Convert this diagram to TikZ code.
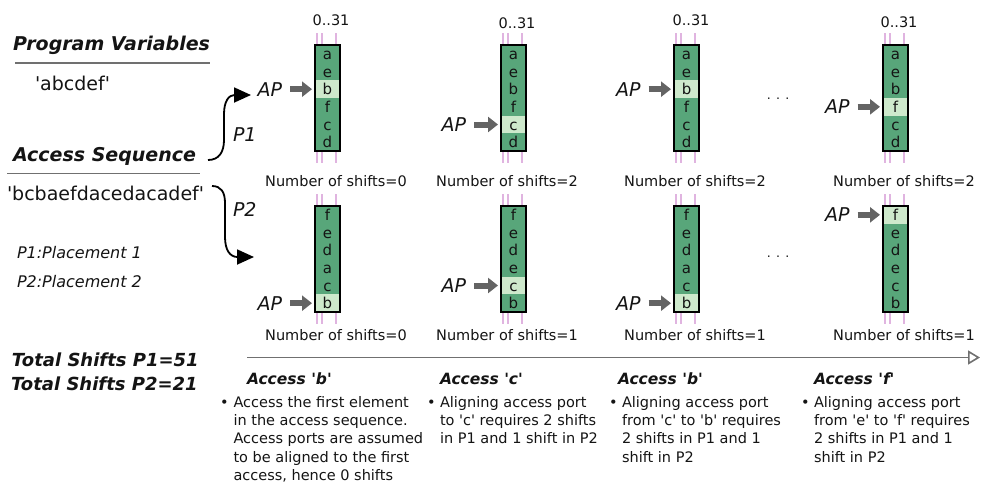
\documentclass[tikz,border=0pt]{standalone}
\usepackage{fontspec}
\setmainfont{DejaVu Sans}[Ligatures=TeXOff]
\usetikzlibrary{arrows.meta}

\definecolor{tapegreen}{RGB}{88,166,122}
\definecolor{cellhl}{RGB}{206,233,204}
\definecolor{railpink}{RGB}{224,180,224}
\definecolor{apgray}{RGB}{100,100,100}
\definecolor{rulegray}{RGB}{112,112,112}
\definecolor{inkdark}{RGB}{20,20,20}

\tikzset{
  txt/.style={inner sep=0pt, outer sep=0pt, text=inkdark},
  headtext/.style={txt, anchor=base west, font=\fontsize{19}{22}\selectfont\bfseries\itshape},
  totaltext/.style={txt, anchor=base west, font=\fontsize{18}{22}\selectfont\bfseries\itshape},
  plaintext/.style={txt, anchor=base west, font=\fontsize{19}{22}\selectfont},
  legendtext/.style={txt, anchor=base west, font=\fontsize{16}{18}\selectfont\itshape},
  plabel/.style={txt, anchor=base west, font=\fontsize{19}{22}\selectfont\itshape},
  aplabel/.style={txt, anchor=east, font=\fontsize{19}{22}\selectfont\itshape},
  idxrange/.style={txt, anchor=base, font=\fontsize{14.5}{17}\selectfont},
  shiftcount/.style={txt, anchor=base, font=\fontsize{14.5}{17}\selectfont},
  gapdots/.style={txt, anchor=base, font=\fontsize{12.5}{14}\selectfont},
  tapecell/.style={inner sep=0pt, outer sep=0pt, minimum width=25pt, minimum height=17.667pt,
    anchor=north west, text=inkdark, font=\fontsize{15}{17}\selectfont,
    text height=11pt, text depth=0pt},
  railline/.style={railpink, line width=1.8pt},
  tapeborder/.style={draw=black, line width=1.2pt},
  aparrow/.style={apgray, line width=6pt, -{Triangle[length=10pt,width=15pt]},
    shorten <=8pt, shorten >=3pt},
  pcurve/.style={black, line width=1.8pt, -{Triangle[length=17pt,width=15pt]}},
  hrule/.style={rulegray, line width=1.6pt},
  timeline/.style={rulegray, line width=1.6pt,
    -{Triangle[open, length=12pt, width=14pt, line width=1.6pt]}},
  accesshead/.style={txt, anchor=base west, font=\fontsize{15.5}{18}\selectfont\bfseries\itshape},
  notetext/.style={txt, anchor=base west, font=\fontsize{14.5}{18}\selectfont},
}

% one racetrack tape: rails, six cells (one highlighted) and its frame
% #1 name, #2 left x, #3 top y, #4 cell letters, #5 highlighted cell
\newcommand\tapecolumn[5]{%
  \foreach \dx in {2.3,7,21.3}{\draw[railline] (#2+\dx,#3-12) -- (#2+\dx,#3+118);}
  \foreach \l [count=\i] in {#4}{%
    \ifnum\i=#5\relax\def\cellcol{cellhl}\else\def\cellcol{tapegreen}\fi
    \node[tapecell, fill=\cellcol] (#1-\i) at (#2,#3+\i*17.667-17.667) {\l};}
  \draw[tapeborder] (#1-1.north west) rectangle (#1-6.south east);
}

% access port label with its block arrow pointing at a cell
% #1 label name, #2 target cell, #3 gap between label and tape
\newcommand\accessport[3]{%
  \node[aplabel] (#1) at ([xshift=-#3]#2.west) {AP};
  \draw[aparrow] (#1.east) -- (#2.west);
}

% explanation under the time line
% #1 name, #2 heading x, #3 bullet x, #4 text x, #5 heading, #6 lines
\newcommand\notecolumn[6]{%
  \node[accesshead] (#1-h) at (#2,384) {#5};
  \node[notetext] (#1-b) at (#3,407.5) {\textbullet};
  \foreach \ln [count=\k] in {#6}{\node[notetext] (#1-\k) at (#4,407.5+\k*18.2-18.2) {\ln};}
}

\begin{document}
\begin{tikzpicture}[x=1pt,y=-1pt]
\useasboundingbox (0,0) rectangle (981,483);

% ---- left side: variables, sequence, legend, totals
\node[headtext] (pvhead) at (13,50.5) {Program Variables};
\draw[hrule] (15,63) -- (210,63);
\node[plaintext] (pvval) at (35,90.5) {'abcdef'};

\node[headtext] (seqhead) at (13,161.5) {Access Sequence};
\draw[hrule] (7,173.3) -- (200,173.3);
\node[plaintext] (seqval) at (7,200.5) {'bcbaefdacedacadef'};

\node[legendtext] (leg1) at (17,258) {P1:Placement 1};
\node[legendtext] (leg2) at (17,287) {P2:Placement 2};

\node[totaltext] (tot1) at (12,366.7) {Total Shifts P1=51};
\node[totaltext] (tot2) at (11,390) {Total Shifts P2=21};

% ---- placement arrows
\coordinate (p1from) at (208,160);
\coordinate (p1to) at (251,95);
\draw[pcurve] (p1from) .. controls (219,160) and (224,152) .. (224,140)
  -- (224,114) .. controls (224,101) and (229,95) .. (p1to);
\node[plabel] (p1lab) at (233,141.7) {P1};

\coordinate (p2from) at (212,186);
\coordinate (p2to) at (254,257);
\draw[pcurve] (p2from) .. controls (221,186) and (225,192) .. (225,203)
  -- (225,237) .. controls (225,250) and (230,257) .. (p2to);
\node[plabel] (p2lab) at (233,216) {P2};

% ---- placement 1 tapes
\tapecolumn{tA1}{315}{45}{a,e,b,f,c,d}{3}
\tapecolumn{tA2}{501}{45}{a,e,b,f,c,d}{5}
\tapecolumn{tA3}{674}{45}{a,e,b,f,c,d}{3}
\tapecolumn{tA4}{883}{45}{a,e,b,f,c,d}{4}

% ---- placement 2 tapes
\tapecolumn{tB1}{315}{206}{f,e,d,a,c,b}{6}
\tapecolumn{tB2}{501}{206}{f,e,d,e,c,b}{5}
\tapecolumn{tB3}{674}{206}{f,e,d,a,c,b}{6}
\tapecolumn{tB4}{883}{206}{f,e,d,e,c,b}{1}

% ---- access ports
\accessport{apA1}{tA1-3}{33pt}
\accessport{apA2}{tA2-5}{35pt}
\accessport{apA3}{tA3-3}{33.5pt}
\accessport{apA4}{tA4-4}{33.5pt}
\accessport{apB1}{tB1-6}{33pt}
\accessport{apB2}{tB2-5}{35pt}
\accessport{apB3}{tB3-6}{33.5pt}
\accessport{apB4}{tB4-1}{33.5pt}

% ---- index ranges
\node[idxrange] (rgA1) at (331,25) {0..31};
\node[idxrange] (rgA2) at (517,28) {0..31};
\node[idxrange] (rgA3) at (691,25) {0..31};
\node[idxrange] (rgA4) at (899,27) {0..31};

% ---- shift counts
\node[shiftcount] (shA1) at (336,186) {Number of shifts=0};
\node[shiftcount] (shA2) at (507,186) {Number of shifts=2};
\node[shiftcount] (shA3) at (695,186) {Number of shifts=2};
\node[shiftcount] (shA4) at (904,186) {Number of shifts=2};
\node[shiftcount] (shB1) at (336,340) {Number of shifts=0};
\node[shiftcount] (shB2) at (507,340) {Number of shifts=1};
\node[shiftcount] (shB3) at (695,340) {Number of shifts=1};
\node[shiftcount] (shB4) at (904,340) {Number of shifts=1};

\node[gapdots] (dotsA) at (778,99) {. . .};
\node[gapdots] (dotsB) at (778,257) {. . .};

% ---- time line and explanations
\coordinate (tlstart) at (247,357.5);
\coordinate (tlend) at (980,357.5);
\draw[timeline] (tlstart) -- (tlend);

\notecolumn{nb1}{247}{220}{233.5}{Access 'b'}
  {Access the first element, in the access sequence., Access ports are assumed,
   to be aligned to the first, {access, hence 0 shifts}}
\notecolumn{nc}{440}{427}{440}{Access 'c'}
  {Aligning access port, to 'c' requires 2 shifts, in P1 and 1 shift in P2}
\notecolumn{nb2}{618}{609}{622}{Access 'b'}
  {Aligning access port, from 'c' to 'b' requires, 2 shifts in P1 and 1, shift in P2}
\notecolumn{nf}{814}{801}{814}{Access 'f'}
  {Aligning access port, from 'e' to 'f' requires, 2 shifts in P1 and 1, shift in P2}
\end{tikzpicture}
\end{document}
